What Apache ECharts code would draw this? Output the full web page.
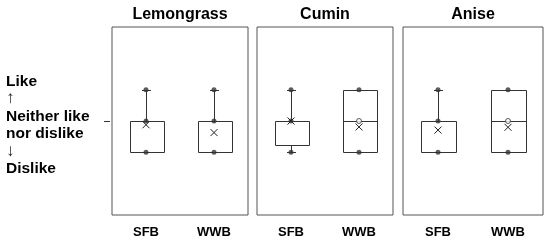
<!DOCTYPE html>
<html>
<head>
<meta charset="utf-8">
<script src="https://cdn.jsdelivr.net/npm/echarts@6/dist/echarts.min.js"></script>
<style>html,body{margin:0;padding:0;background:#fff}#c{width:550px;height:242px}</style>
</head>
<body>
<div id="c"></div>
<script>
// ---- data ----
const categories = ['SFB', 'WWB'];
const panels = ['Lemongrass', 'Cumin', 'Anise'];
// [min, Q1, median, Q3, max] per category
const lemongrassBox = [[2, 2, 3, 3, 4], [2, 2, 3, 3, 4]];
const cuminBox = [[2, 2.25, 3, 3, 4], [2, 2, 3, 4, 4]];
const aniseBox = [[2, 2, 3, 3, 4], [2, 2, 3, 4, 4]];
// means (X markers)
const lemongrassMean = [2.88, 2.63];
const cuminMean = [3.0, 2.81];
const aniseMean = [2.71, 2.80];
// inner points (filled) and open points
const lemongrassPoints = [[2, 3, 4], [2, 3, 4]];
const cuminPoints = [[2, 3, 4], [2, 4]];
const anisePoints = [[2, 3, 4], [2, 4]];
const lemongrassOpen = [[], []];
const cuminOpen = [[], [3]];
const aniseOpen = [[], [3]];
const yTickValues = [3];
const yTickLabel = ['Like', '↑', 'Neither like', 'nor dislike', '↓', 'Dislike'];

const boxes = [lemongrassBox, cuminBox, aniseBox];
const means = [lemongrassMean, cuminMean, aniseMean];
const points = [lemongrassPoints, cuminPoints, anisePoints];
const opens = [lemongrassOpen, cuminOpen, aniseOpen];

const FONT = '"Liberation Sans", Arial, sans-serif';
const LINE = '#333';
const grids = [
  {left: 112, top: 27, width: 136, height: 188},
  {left: 257, top: 27, width: 136, height: 188},
  {left: 403, top: 27, width: 140, height: 188}
];

function renderBox(params, api) {
  const i = api.value(0);
  const mn = api.value(1), q1 = api.value(2), md = api.value(3), q3 = api.value(4), mx = api.value(5);
  const band = api.size([1, 0])[0];
  const half = band * 0.25;
  const cx = Math.round(api.coord([i, md])[0]) + 0.5;
  const y = v => Math.round(api.coord([i, v])[1]) + 0.5;
  const st = {stroke: LINE, lineWidth: 1, fill: null};
  const ch = [];
  const x0 = Math.round(cx - half) + 0.5, x1 = Math.round(cx + half) + 0.5;
  ch.push({type: 'rect', shape: {x: x0, y: y(q3), width: x1 - x0, height: y(q1) - y(q3)}, style: Object.assign({}, st, {fill: '#fff'})});
  if (md > q1 && md < q3) ch.push({type: 'line', shape: {x1: x0, y1: y(md), x2: x1, y2: y(md)}, style: st});
  const cap = 4.5;
  if (mx > q3) {
    ch.push({type: 'line', shape: {x1: cx, y1: y(q3), x2: cx, y2: y(mx)}, style: st});
    ch.push({type: 'line', shape: {x1: cx - cap, y1: y(mx), x2: cx + cap, y2: y(mx)}, style: st});
  }
  if (mn < q1) {
    ch.push({type: 'line', shape: {x1: cx, y1: y(q1), x2: cx, y2: y(mn)}, style: st});
    ch.push({type: 'line', shape: {x1: cx - cap, y1: y(mn), x2: cx + cap, y2: y(mn)}, style: st});
  }
  return {type: 'group', children: ch};
}

function renderMean(params, api) {
  const p = api.coord([api.value(0), api.value(1)]);
  const s = 3.5;
  const st = {stroke: '#222', lineWidth: 1};
  return {type: 'group', children: [
    {type: 'line', shape: {x1: p[0] - s, y1: p[1] - s, x2: p[0] + s, y2: p[1] + s}, style: st},
    {type: 'line', shape: {x1: p[0] + s, y1: p[1] - s, x2: p[0] - s, y2: p[1] + s}, style: st}
  ]};
}

const option = {
  animation: false,
  backgroundColor: '#fff',
  title: panels.map((t, k) => ({
    text: t, left: grids[k].left + grids[k].width / 2, top: 7, textAlign: 'center', padding: 0,
    textStyle: {fontFamily: FONT, fontSize: 16, fontWeight: 'bold', color: '#000'}
  })),
  grid: grids.map(g => Object.assign({show: true, borderColor: '#555', borderWidth: 1, backgroundColor: 'transparent'}, g)),
  xAxis: grids.map((g, k) => ({
    type: 'category', gridIndex: k, data: categories,
    axisLine: {show: false}, axisTick: {show: false}, splitLine: {show: false},
    axisLabel: {margin: 11, fontFamily: FONT, fontSize: 13, fontWeight: 'bold', color: '#000'}
  })),
  yAxis: grids.map((g, k) => ({
    type: 'value', gridIndex: k, min: 0, max: 6, interval: 3, show: k === 0, offset: 2,
    axisLine: {show: false}, splitLine: {show: false},
    axisTick: {show: true, length: 6, customValues: yTickValues, lineStyle: {color: '#333'}},
    axisLabel: {
      customValues: yTickValues, align: 'left', margin: 104, padding: [8, 0, 0, 0],
      formatter: () => yTickLabel.map(s => (s === '↑' || s === '↓') ? '{a|' + s + '}' : '{t|' + s + '}').join('\n'),
      rich: {
        t: {fontFamily: FONT, fontSize: 15.5, fontWeight: 'bold', color: '#000', lineHeight: 17.5},
        a: {fontFamily: FONT, fontSize: 17, color: '#222', lineHeight: 17.5}
      }
    }
  })),
  series: []
};

panels.forEach((p, k) => {
  option.series.push({
    type: 'custom', xAxisIndex: k, yAxisIndex: k, z: 2,
    renderItem: renderBox,
    data: boxes[k].map((b, i) => [i].concat(b)),
    encode: {x: 0, y: [1, 2, 3, 4, 5]}
  });
  const filled = [];
  points[k].forEach((arr, i) => arr.forEach(v => filled.push([i, v])));
  option.series.push({
    type: 'scatter', xAxisIndex: k, yAxisIndex: k, z: 3, symbol: 'circle', symbolSize: 5,
    itemStyle: {color: '#333'}, data: filled, silent: true
  });
  const open = [];
  opens[k].forEach((arr, i) => arr.forEach(v => open.push([i, v])));
  option.series.push({
    type: 'scatter', xAxisIndex: k, yAxisIndex: k, z: 3, symbol: 'circle', symbolSize: 5,
    itemStyle: {color: '#fff', borderColor: '#333', borderWidth: 1}, data: open, silent: true
  });
  option.series.push({
    type: 'custom', xAxisIndex: k, yAxisIndex: k, z: 4,
    renderItem: renderMean,
    data: means[k].map((m, i) => [i, m]),
    encode: {x: 0, y: 1}
  });
});

const chart = echarts.init(document.getElementById('c'), null, {renderer: 'canvas'});
chart.setOption(option);
</script>
</body>
</html>
